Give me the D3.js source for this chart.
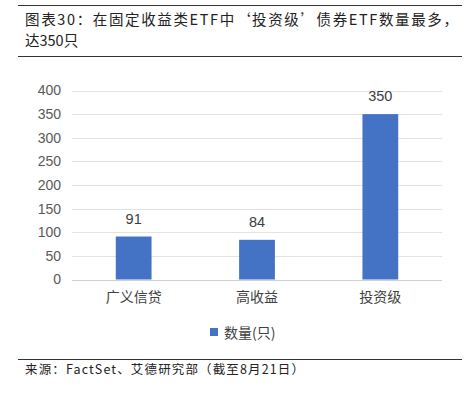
<!DOCTYPE html>
<html><head><meta charset="utf-8">
<script src="https://cdn.jsdelivr.net/npm/d3@7"></script>
<style>body{margin:0;background:#fff;}svg{display:block;}</style>
</head><body>
<svg id="c" width="469" height="397"></svg>
<script>
const categories = ["广义信贷", "高收益", "投资级"];
const values = [91, 84, 350];
const yTicks = [0, 50, 100, 150, 200, 250, 300, 350, 400];
const seriesName = "数量(只)";
const titleLines = ["图表30：在固定收益类ETF中‘投资级’债券ETF数量最多，", "达350只"];
const sourceText = "来源：FactSet、艾德研究部（截至8月21日）";

const svg = d3.select("#c");
const cjk = "'Noto Sans CJK SC', sans-serif";
const lat = "'Liberation Sans', Arial, 'Noto Sans CJK SC', sans-serif";

// header rules
svg.append("line").attr("x1",18).attr("x2",462).attr("y1",5.5).attr("y2",5.5).attr("stroke","#333").attr("stroke-width",1.2);
svg.append("line").attr("x1",18).attr("x2",462).attr("y1",56.5).attr("y2",56.5).attr("stroke","#333").attr("stroke-width",1.2);
svg.append("line").attr("x1",18).attr("x2",462).attr("y1",359.5).attr("y2",359.5).attr("stroke","#333").attr("stroke-width",1.2);

svg.selectAll("text.title").data(titleLines).enter().append("text")
  .attr("x",25).attr("y",(d,i)=>25+i*21)
  .attr("font-family",cjk).attr("font-size",14.5).attr("fill","#222")
  .attr("textLength",(d,i)=>i===0?433:null).attr("lengthAdjust","spacing")
  .text(d=>d);

svg.append("text").attr("x",25).attr("y",374).attr("font-family",cjk).attr("font-size",12.5).attr("fill","#222")
  .attr("textLength",279).attr("lengthAdjust","spacing").text(sourceText);

const x = d3.scaleBand().domain(categories).range([72,442]).paddingInner(0.71).paddingOuter(0.355);
const y = d3.scaleLinear().domain([0,400]).range([279.5,90.5]);

// grid
svg.append("g").selectAll("line").data(yTicks).enter().append("line")
  .attr("x1",72).attr("x2",442).attr("y1",d=>Math.round(y(d))+0.5).attr("y2",d=>Math.round(y(d))+0.5)
  .attr("stroke",d=>d===0?"#d0d0d0":"#e3e3e3").attr("stroke-width",1);

// y axis labels
const yAxis = d3.axisLeft(y).tickValues(yTicks).tickSize(0).tickPadding(0);
const ga = svg.append("g").attr("transform","translate(61,0)").call(yAxis);
ga.select(".domain").remove();
ga.selectAll("text").attr("font-family",lat).attr("font-size",14).attr("fill","#595959");

// bars
svg.append("g").selectAll("rect").data(values).enter().append("rect")
  .attr("x",(d,i)=>x(categories[i])).attr("width",x.bandwidth())
  .attr("y",d=>y(d)).attr("height",d=>y(0)-y(d))
  .attr("fill","#4472C4");

// value labels
svg.append("g").selectAll("text").data(values).enter().append("text")
  .attr("x",(d,i)=>x(categories[i])+x.bandwidth()/2).attr("y",d=>y(d)-13)
  .attr("text-anchor","middle").attr("font-family",lat).attr("font-size",14.5).attr("fill","#404040")
  .text(d=>d);

// x axis labels
const xAxis = d3.axisBottom(x).tickSize(0).tickPadding(0);
const gx = svg.append("g").attr("transform","translate(0,292)").call(xAxis);
gx.select(".domain").remove();
gx.selectAll("text").attr("font-family",cjk).attr("font-size",14).attr("fill","#404040");

// legend
svg.append("rect").attr("x",210).attr("y",328).attr("width",8).attr("height",8).attr("fill","#4472C4");
svg.append("text").attr("x",224).attr("y",337.5).attr("font-family",cjk).attr("font-size",14).attr("fill","#404040").text(seriesName);
</script>
</body></html>
